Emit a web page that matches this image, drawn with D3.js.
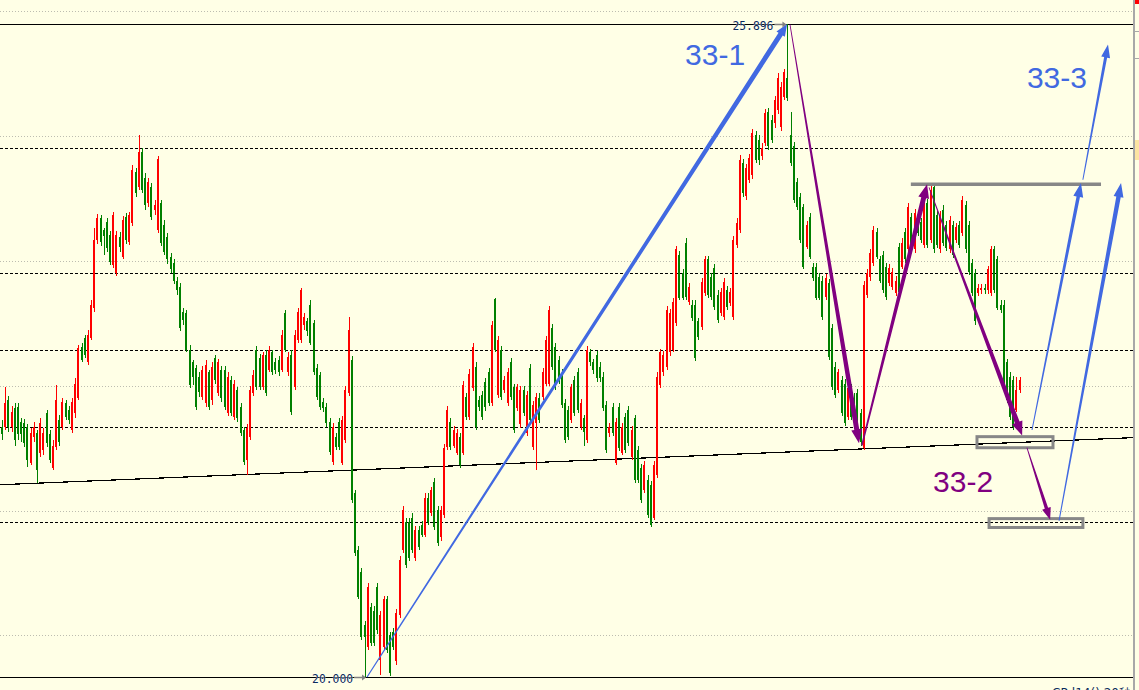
<!DOCTYPE html>
<html>
<head>
<meta charset="utf-8">
<script src="https://d3js.org/d3.v7.min.js"></script>
<style>
  html, body { margin: 0; padding: 0; background: #ffffe6; overflow: hidden; }
  .chart { width: 1139px; height: 690px; }
</style>
</head>
<body>
<div class="chart"></div>
<script>
// one entry per bar, oldest first
var opens = [
  22.26,22.26,22.50,22.26,22.43,22.44,22.30,22.29,22.26,21.93,
  22.17,22.20,22.02,22.05,22.38,22.19,21.89,22.08,22.32,22.26,
  22.47,22.41,22.23,22.38,22.52,22.98,23.06,22.84,23.06,23.33,
  23.95,24.14,24.04,24.11,23.99,23.72,23.65,23.97,23.79,24.15,
  23.93,24.10,24.56,24.42,24.74,24.51,24.28,24.42,24.22,24.04,
  24.28,24.08,23.97,23.79,23.74,23.58,23.52,23.30,23.29,22.95,
  22.84,22.79,22.71,22.53,22.47,22.75,22.50,22.88,22.56,22.77,
  22.77,22.38,22.68,22.35,22.59,22.44,22.23,21.96,22.17,22.56,
  22.95,22.88,22.62,22.91,22.77,22.93,22.84,22.86,22.77,23.29,
  22.75,22.91,22.62,23.04,23.04,23.18,23.21,23.36,23.20,22.79,
  22.73,22.48,22.44,22.30,21.94,22.17,22.30,21.93,22.14,22.56,
  22.86,21.66,21.15,20.95,20.47,20.27,20.63,20.60,20.81,20.15,
  20.27,20.70,20.38,20.41,20.14,20.56,21.15,21.40,21.40,21.44,
  21.07,21.33,21.37,21.28,21.62,21.48,21.76,21.51,21.26,21.46,
  22.08,22.30,22.09,22.02,22.17,22.02,22.53,22.35,22.61,22.80,
  22.50,22.55,22.66,22.75,22.47,23.41,22.55,22.95,22.59,22.47,
  22.84,22.62,22.43,22.28,22.59,22.20,22.79,22.08,22.29,22.52,
  22.53,22.65,22.65,23.15,22.98,22.86,22.74,22.47,22.41,22.32,
  22.68,22.75,22.26,22.34,22.14,22.93,22.84,22.91,22.80,22.71,
  22.46,22.20,22.44,21.93,22.44,22.02,22.35,22.41,21.99,22.34,
  22.05,21.89,21.69,21.78,21.73,21.44,21.82,22.64,22.75,22.80,
  22.93,22.95,23.20,23.81,23.65,23.92,23.39,23.36,23.36,23.21,
  23.16,23.47,23.77,23.61,23.69,23.45,23.29,23.25,23.49,23.38,
  23.25,23.90,24.04,24.64,24.34,24.49,24.53,24.89,24.85,24.70,
  24.82,25.10,25.03,25.00,25.12,24.97,25.24,25.41,24.89,24.79,
  24.47,24.33,24.24,23.88,24.15,23.70,23.70,23.61,23.58,23.43,
  23.56,23.15,22.80,22.59,22.68,22.65,22.35,22.62,22.52,22.56,
  22.38,22.07,23.45,23.61,23.74,24.02,23.77,23.81,23.70,23.56,
  23.52,23.47,23.88,23.70,24.02,23.86,24.15,23.86,24.15,24.11,
  23.90,24.28,23.95,24.42,24.17,23.86,24.22,24.08,23.86,24.08,
  23.95,24.08,24.01,24.26,24.08,23.74,23.65,23.47,23.49,23.51,
  23.49,23.47,23.86,23.77,23.36,23.36,22.84,22.71,22.68,22.41,
  22.59
];
var highs = [
  22.32,22.62,22.54,22.45,22.47,22.47,22.34,22.33,22.28,22.25,
  22.30,22.23,22.34,22.25,22.41,22.23,22.14,22.64,22.37,22.52,
  22.50,22.45,22.52,22.70,23.00,23.02,23.09,23.13,23.40,24.05,
  24.18,24.17,24.05,24.14,24.03,24.20,24.03,24.02,24.16,24.19,
  24.20,24.62,24.60,24.89,24.78,24.55,24.51,24.46,24.31,24.70,
  24.31,24.13,24.01,23.83,23.77,23.61,23.56,23.33,23.31,23.00,
  22.86,22.82,22.75,22.81,22.86,22.77,22.84,22.91,22.87,22.81,
  22.81,22.75,22.72,22.68,22.62,22.47,22.26,22.28,22.63,22.77,
  22.99,22.92,22.93,22.95,22.99,22.95,22.88,22.90,23.13,23.31,
  22.93,22.95,23.13,23.33,23.51,23.29,23.24,23.40,23.22,22.83,
  22.75,22.52,22.47,22.34,22.29,22.20,22.34,22.36,22.63,23.25,
  22.90,21.69,21.18,20.98,20.51,20.85,20.67,20.64,20.85,20.60,
  20.73,20.73,20.41,20.44,20.61,21.09,21.54,21.44,21.44,21.48,
  21.36,21.36,21.41,21.66,21.66,21.72,21.80,21.54,21.54,22.10,
  22.45,22.34,22.27,22.24,22.20,22.67,22.56,22.78,23.02,22.84,
  22.54,22.58,22.70,22.79,23.21,23.42,23.08,22.99,22.72,22.79,
  22.88,22.65,22.65,22.63,22.63,22.58,22.83,22.49,22.56,22.56,
  22.79,23.08,23.35,23.19,23.02,22.90,22.78,22.51,22.45,22.65,
  22.72,22.79,22.51,22.37,22.99,22.96,22.87,22.94,22.84,22.75,
  22.49,22.29,22.47,22.34,22.47,22.29,22.38,22.45,22.27,22.37,
  22.09,21.92,21.95,21.82,21.77,21.95,22.75,22.96,22.94,23.35,
  23.32,23.42,23.89,23.85,23.68,23.96,23.56,23.40,23.40,23.24,
  23.60,23.80,23.80,23.65,23.73,23.49,23.51,23.60,23.53,23.51,
  23.98,24.14,24.71,24.68,24.63,24.72,24.95,24.93,24.89,24.82,
  25.13,25.14,25.07,25.25,25.45,25.37,25.49,25.896,25.10,24.83,
  24.51,24.37,24.27,24.12,24.19,23.74,23.74,23.65,23.62,23.64,
  23.59,23.19,22.84,22.78,22.72,22.69,22.65,22.65,22.56,22.60,
  22.42,23.58,23.68,23.86,24.07,24.05,23.80,23.85,23.74,23.73,
  23.69,23.62,23.92,23.96,24.05,24.28,24.19,24.23,24.19,24.14,
  24.34,24.32,24.46,24.44,24.21,24.21,24.26,24.12,24.16,24.12,
  24.10,24.12,24.34,24.30,24.12,23.77,23.68,23.55,23.55,23.55,
  23.71,23.89,23.89,23.80,23.40,23.40,22.87,22.75,22.72,22.71,
  22.71
];
var lows = [
  22.14,22.23,22.21,22.21,22.09,22.14,22.12,22.08,21.90,21.91,
  22.12,21.75,21.99,22.00,22.08,21.93,21.87,22.05,22.09,22.23,
  22.32,22.28,22.20,22.34,22.50,22.84,22.88,22.82,23.04,23.30,
  23.91,23.89,23.81,23.84,23.72,23.69,23.62,23.84,23.77,23.91,
  23.90,24.07,24.33,24.40,24.37,24.22,24.24,24.13,24.17,24.01,
  23.89,23.81,23.73,23.65,23.55,23.45,23.12,23.18,22.93,22.61,
  22.64,22.41,22.53,22.50,22.44,22.41,22.46,22.65,22.54,22.48,
  22.41,22.36,22.36,22.32,22.30,22.18,21.91,21.82,22.14,22.54,
  22.59,22.59,22.59,22.54,22.75,22.73,22.74,22.72,22.75,22.93,
  22.72,22.37,22.59,23.02,23.02,23.13,23.08,23.00,22.73,22.50,
  22.41,22.39,22.26,22.00,21.91,22.05,22.05,21.91,22.11,22.54,
  21.57,21.09,20.70,20.33,20.00,20.24,20.28,20.28,20.39,20.02,
  20.24,20.22,20.01,20.24,20.11,20.53,21.12,20.98,21.05,21.12,
  21.05,21.15,21.26,21.26,21.37,21.45,21.33,21.18,21.23,21.44,
  22.05,22.05,22.07,22.00,21.89,22.00,22.32,22.32,22.58,22.23,
  22.40,22.32,22.40,22.45,22.45,22.93,22.52,22.50,22.56,22.45,
  22.50,22.20,22.40,22.25,22.36,22.18,22.29,22.05,21.87,22.29,
  22.50,22.63,22.63,22.77,22.59,22.65,22.43,22.11,22.14,22.29,
  22.36,22.38,22.23,22.09,22.11,22.81,22.74,22.66,22.66,22.40,
  22.02,22.17,22.18,21.91,22.04,22.00,22.02,22.09,21.96,21.75,
  21.75,21.57,21.66,21.44,21.35,21.42,21.80,22.61,22.72,22.77,
  22.90,22.93,23.17,23.40,23.40,23.40,23.36,23.21,22.85,23.04,
  23.13,23.44,23.42,23.40,23.31,23.20,23.26,23.22,23.31,23.35,
  23.22,23.87,24.01,24.33,24.31,24.46,24.50,24.64,24.62,24.67,
  24.79,24.76,24.82,24.96,25.08,24.93,25.21,25.20,24.61,24.28,
  24.22,23.92,23.68,23.86,23.77,23.58,23.40,23.40,23.22,23.40,
  22.86,22.59,22.52,22.56,22.36,22.27,22.32,22.32,22.29,22.23,
  22.09,22.05,23.42,23.58,23.71,23.77,23.56,23.47,23.40,23.53,
  23.49,23.44,23.45,23.68,23.74,23.83,23.87,23.83,23.98,23.92,
  23.87,23.87,23.92,23.83,23.87,23.83,23.89,23.85,23.83,23.78,
  23.92,23.87,23.98,23.83,23.63,23.44,23.18,23.44,23.46,23.46,
  23.46,23.44,23.47,23.31,23.29,22.59,22.47,22.32,22.23,22.39,
  22.56
];
var closes = [
  22.19,22.47,22.26,22.39,22.14,22.19,22.19,22.11,21.96,22.20,
  22.26,21.87,22.29,22.20,22.11,21.96,22.09,22.50,22.12,22.48,
  22.35,22.32,22.48,22.65,22.97,22.86,22.91,23.09,23.36,23.95,
  24.14,23.93,23.98,23.87,23.75,24.17,23.99,23.88,24.13,23.95,
  24.17,24.58,24.37,24.74,24.40,24.26,24.47,24.15,24.26,24.68,
  23.92,23.84,23.77,23.68,23.58,23.49,23.15,23.22,22.95,22.64,
  22.71,22.44,22.57,22.77,22.82,22.44,22.80,22.68,22.84,22.52,
  22.44,22.71,22.38,22.65,22.34,22.20,21.94,22.25,22.59,22.73,
  22.62,22.62,22.91,22.56,22.95,22.75,22.77,22.75,23.09,22.95,
  22.89,22.39,23.09,23.30,23.49,23.25,23.12,23.02,22.75,22.53,
  22.44,22.43,22.29,22.03,22.26,22.08,22.08,22.32,22.59,23.13,
  21.60,21.12,20.72,20.36,20.36,20.81,20.31,20.31,20.42,20.56,
  20.70,20.24,20.04,20.27,20.58,21.06,21.51,21.01,21.07,21.15,
  21.33,21.17,21.28,21.62,21.40,21.69,21.35,21.21,21.51,22.07,
  22.41,22.08,22.23,22.20,21.91,22.64,22.35,22.74,22.98,22.26,
  22.44,22.35,22.44,22.47,23.18,22.95,23.04,22.53,22.68,22.75,
  22.53,22.23,22.62,22.59,22.38,22.55,22.32,22.46,22.53,22.32,
  22.75,23.04,23.31,22.80,22.62,22.68,22.46,22.14,22.17,22.62,
  22.38,22.41,22.47,22.21,22.95,22.84,22.77,22.70,22.70,22.43,
  22.05,22.26,22.20,22.30,22.07,22.26,22.05,22.11,22.23,21.78,
  21.78,21.60,21.91,21.46,21.37,21.91,22.71,22.93,22.91,23.31,
  23.29,23.39,23.86,23.42,23.42,23.43,23.52,23.24,22.88,23.07,
  23.57,23.77,23.45,23.43,23.34,23.22,23.48,23.57,23.34,23.48,
  23.95,24.10,24.67,24.37,24.60,24.69,24.91,24.67,24.67,24.78,
  25.09,24.79,24.85,25.21,25.41,25.33,25.46,25.23,24.64,24.31,
  24.24,23.95,23.70,24.08,23.79,23.60,23.42,23.42,23.25,23.60,
  22.89,22.62,22.55,22.75,22.38,22.29,22.61,22.35,22.32,22.26,
  22.12,23.54,23.65,23.83,24.04,23.79,23.58,23.49,23.43,23.69,
  23.66,23.58,23.48,23.92,23.77,24.24,23.90,24.19,24.01,23.95,
  24.31,23.90,24.40,23.86,23.90,24.17,23.92,23.87,24.13,23.81,
  24.06,23.90,24.31,23.86,23.66,23.47,23.21,23.51,23.51,23.49,
  23.68,23.86,23.49,23.33,23.31,22.62,22.50,22.35,22.26,22.59,
  22.68
];

// price levels
var gridLevels = [26.013, 24.885, 23.756, 22.628, 21.499, 20.379];
var dashLevels = [24.775, 23.645, 22.95, 22.255, 21.40];
var axisTicks = [25.83, 25.59];

// drawn objects, anchored as [bar index, price]
var trendPts = [[11, 21.75], [271, 22.06]];
var blueArrows = [
  [[114.8, 20.000], [246.9, 25.896], 1.2, 5, 12, 5],
  [[323.9, 22.23], [339.3, 24.46], 1, 3.5, 14, 5],
  [[332.4, 21.41], [351.9, 24.46], 1, 4.5, 14, 5],
  [[339.9, 24.49], [347.8, 25.71], 1, 3, 13, 4.5]
];
var purpleArrows = [
  [[247.8, 25.89], [269.5, 22.11], 0.8, 5, 14, 5.5],
  [[270.4, 22.09], [290.9, 24.45], 1.5, 5, 14, 5.5],
  [[291.5, 24.42], [320.8, 22.18], 0.8, 5, 14, 5.5],
  [[322.3, 22.07], [329.6, 21.42], 0.8, 3.5, 12, 4.5]
];
var greyBar = [[285.8, 24.45], [345.6, 24.45]];
var greyBoxes = [
  [[306.6, 22.17], [330.5, 22.07]],
  [[310.4, 21.43], [339.9, 21.35]]
];
var labels = [
  {text: "33-1", at: [214.8, 25.526], color: "#4169e1"},
  {text: "33-3", at: [322.3, 25.318], color: "#4169e1"},
  {text: "33-2", at: [292.8, 21.670], color: "#800080"}
];

var width = 1139, height = 690, plotRight = 1133;

var hiPrice = d3.max(highs), loPrice = d3.min(lows);
var hiBar = highs.indexOf(hiPrice), loBar = lows.indexOf(loPrice);

var x = d3.scaleLinear()
          .domain([0, closes.length - 1])
          .range([2, 1019.6]);

var y = d3.scaleLinear()
          .domain([loPrice, hiPrice])
          .range([677, 24]);

var svg = d3.select(".chart").append("svg")
            .attr("width", width)
            .attr("height", height);

svg.append("rect")
   .attr("width", width).attr("height", height)
   .attr("fill", "#ffffe6");

svg.append("clipPath").attr("id", "plot")
   .append("rect").attr("width", plotRight).attr("height", height);

var g = svg.append("g").attr("clip-path", "url(#plot)");

g.selectAll(".grid")
  .data(gridLevels)
  .enter().append("line")
  .attr("class", "grid")
  .attr("x1", 0).attr("x2", plotRight)
  .attr("y1", function(d) { return Math.round(y(d)) + 0.5; })
  .attr("y2", function(d) { return Math.round(y(d)) + 0.5; })
  .attr("stroke", "#bdbdb0")
  .attr("stroke-dasharray", "1,2");

g.selectAll(".level")
  .data(dashLevels)
  .enter().append("line")
  .attr("class", "level")
  .attr("x1", 0).attr("x2", plotRight)
  .attr("y1", function(d) { return Math.round(y(d)) + 0.5; })
  .attr("y2", function(d) { return Math.round(y(d)) + 0.5; })
  .attr("stroke", "#000")
  .attr("stroke-dasharray", "3,2");

g.selectAll(".hilo")
  .data([hiPrice, loPrice])
  .enter().append("line")
  .attr("class", "hilo")
  .attr("x1", 0).attr("x2", plotRight)
  .attr("y1", function(d) { return Math.round(y(d)) + 0.5; })
  .attr("y2", function(d) { return Math.round(y(d)) + 0.5; })
  .attr("stroke", "#000");

// trend line extended over the whole window
var tSlope = (y(trendPts[1][1]) - y(trendPts[0][1])) / (x(trendPts[1][0]) - x(trendPts[0][0]));
var tY = function(px) { return y(trendPts[0][1]) + (px - x(trendPts[0][0])) * tSlope; };
g.append("line")
  .attr("x1", 0).attr("y1", tY(0))
  .attr("x2", plotRight).attr("y2", tY(plotRight))
  .attr("stroke", "#000")
  .attr("stroke-width", 1.2)
  .attr("shape-rendering", "crispEdges");

// candles
var bars = d3.range(closes.length);
var candle = g.selectAll(".candle")
  .data(bars)
  .enter().append("g")
  .attr("class", "candle")
  .attr("shape-rendering", "crispEdges")
  .attr("fill", function(i) { return closes[i] >= opens[i] ? "#ff0000" : "#008000"; });

candle.append("rect")
  .attr("x", function(i) { return Math.round(x(i)); })
  .attr("width", 1)
  .attr("y", function(i) { return Math.round(y(highs[i])); })
  .attr("height", function(i) { return Math.max(1, Math.round(y(lows[i])) - Math.round(y(highs[i]))); });

candle.append("rect")
  .attr("x", function(i) { return Math.round(x(i)) - 1; })
  .attr("width", 2)
  .attr("y", function(i) { return Math.round(y(Math.max(opens[i], closes[i]))); })
  .attr("height", function(i) {
    return Math.max(1, Math.round(y(Math.min(opens[i], closes[i]))) - Math.round(y(Math.max(opens[i], closes[i]))));
  });

// grey objects
g.append("line")
  .attr("x1", x(greyBar[0][0])).attr("x2", x(greyBar[1][0]))
  .attr("y1", y(greyBar[0][1])).attr("y2", y(greyBar[1][1]))
  .attr("stroke", "#878787")
  .attr("stroke-width", 3.5);

g.selectAll(".box")
  .data(greyBoxes)
  .enter().append("rect")
  .attr("class", "box")
  .attr("x", function(d) { return x(d[0][0]); })
  .attr("y", function(d) { return y(d[0][1]); })
  .attr("width", function(d) { return x(d[1][0]) - x(d[0][0]); })
  .attr("height", function(d) { return y(d[1][1]) - y(d[0][1]); })
  .attr("fill", "none")
  .attr("stroke", "#878787")
  .attr("stroke-width", 3);

// tapered arrows: thin at the start, heavy near the head
function arrowPath(a) {
  var x1 = x(a[0][0]), y1 = y(a[0][1]), x2 = x(a[1][0]), y2 = y(a[1][1]);
  var w0 = a[2], w1 = a[3], hl = a[4], hw = a[5];
  var dx = x2 - x1, dy = y2 - y1, len = Math.sqrt(dx * dx + dy * dy);
  var ux = dx / len, uy = dy / len, nx = -uy, ny = ux;
  var bx = x2 - ux * hl, by = y2 - uy * hl;
  var pts = [
    [x1 + nx * w0 / 2, y1 + ny * w0 / 2],
    [bx + nx * w1 / 2, by + ny * w1 / 2],
    [bx + nx * hw, by + ny * hw],
    [x2, y2],
    [bx - nx * hw, by - ny * hw],
    [bx - nx * w1 / 2, by - ny * w1 / 2],
    [x1 - nx * w0 / 2, y1 - ny * w0 / 2]
  ];
  return "M" + pts.map(function(p) { return p[0].toFixed(2) + "," + p[1].toFixed(2); }).join("L") + "Z";
}

g.selectAll(".parrow")
  .data(purpleArrows)
  .enter().append("path")
  .attr("class", "parrow")
  .attr("d", arrowPath)
  .attr("fill", "#800080");

g.selectAll(".barrow")
  .data(blueArrows)
  .enter().append("path")
  .attr("class", "barrow")
  .attr("d", arrowPath)
  .attr("fill", "#4169e1");

g.selectAll(".label")
  .data(labels)
  .enter().append("text")
  .attr("class", "label")
  .attr("x", function(d) { return x(d.at[0]); })
  .attr("y", function(d) { return y(d.at[1]); })
  .attr("fill", function(d) { return d.color; })
  .style("font-family", "'Liberation Sans', Arial, sans-serif")
  .style("font-size", "30px")
  .text(function(d) { return d.text; });

// high / low price tags
var tags = [
  {price: hiPrice, bar: hiBar},
  {price: loPrice, bar: loBar + 0.8}
];
tags.forEach(function(t) {
  var tx = x(t.bar), ty = Math.round(y(t.price)) + 0.5;
  g.append("line")
    .attr("x1", tx - 13).attr("x2", tx - 3)
    .attr("y1", ty).attr("y2", ty)
    .attr("stroke", "#808080").attr("stroke-width", 1.5);
  g.append("path")
    .attr("d", "M" + (tx - 1) + "," + ty + "L" + (tx - 5) + "," + (ty - 3) + "L" + (tx - 5) + "," + (ty + 3) + "Z")
    .attr("fill", "#808080");
  g.append("text")
    .attr("x", tx - 55).attr("y", ty + 5)
    .attr("textLength", 41)
    .attr("lengthAdjust", "spacingAndGlyphs")
    .attr("fill", "#0b2b5b")
    .attr("stroke", "#ffffff").attr("stroke-width", 0.6).attr("paint-order", "stroke")
    .style("font-family", "'DejaVu Sans Mono', monospace")
    .style("font-size", "13px")
    .text(d3.format(".3f")(t.price));
});

// price-scale strip on the right
svg.append("rect")
   .attr("x", plotRight).attr("y", 0)
   .attr("width", 2).attr("height", height)
   .attr("fill", "#a8a8a8");

svg.selectAll(".atick")
   .data(axisTicks)
   .enter().append("line")
   .attr("class", "atick")
   .attr("x1", plotRight + 2).attr("x2", width)
   .attr("y1", function(d) { return Math.round(y(d)) + 0.5; })
   .attr("y2", function(d) { return Math.round(y(d)) + 0.5; })
   .attr("stroke", "#a8a8a8");

svg.append("rect")
   .attr("x", plotRight + 2).attr("y", 0)
   .attr("width", 4).attr("height", 4)
   .attr("fill", "#ff0000");

svg.append("rect")
   .attr("x", plotRight + 2).attr("y", Math.round(y(24.85)))
   .attr("width", 4).attr("height", 20)
   .attr("fill", "#fce4a2");

svg.append("text")
   .attr("x", 1052).attr("y", 697)
   .attr("fill", "#0b2b5b")
   .style("font-family", "'DejaVu Sans', sans-serif")
   .style("font-size", "12px")
   .text("CPd14() 20秒");
</script>
</body>
</html>
